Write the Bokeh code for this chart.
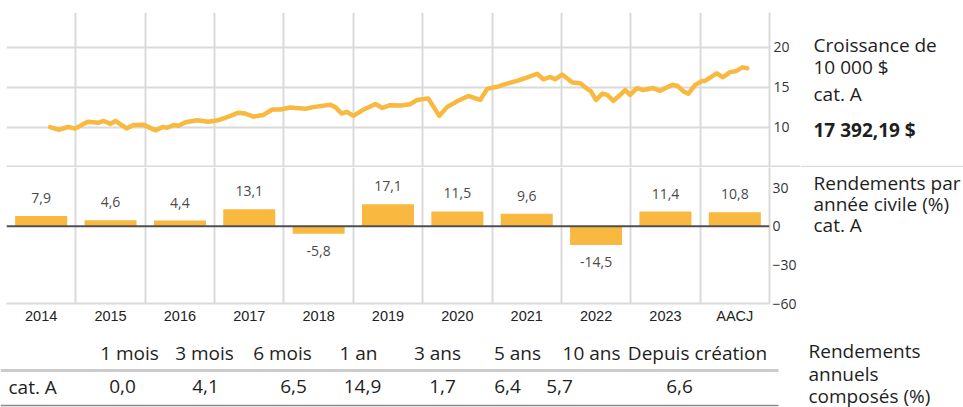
from bokeh.plotting import figure
from bokeh.layouts import column, row
from bokeh.models import Range1d, FixedTicker, Span, Grid
from bokeh.core.properties import value
from bokeh.embed import file_html
from bokeh.resources import INLINE

# ---------------- data ----------------
growth_t = [2014.63, 2014.75, 2014.89, 2014.99, 2015.17, 2015.33, 2015.40, 2015.50, 2015.57,
            2015.73, 2015.83, 2015.97, 2016.15, 2016.25, 2016.32, 2016.41, 2016.48, 2016.58,
            2016.75, 2016.91, 2017.05, 2017.23, 2017.34, 2017.44, 2017.56, 2017.70, 2017.83,
            2017.95, 2018.09, 2018.31, 2018.42, 2018.67, 2018.74, 2018.83, 2018.91, 2019.00,
            2019.13, 2019.32, 2019.42, 2019.53, 2019.68, 2019.82, 2019.92, 2020.08, 2020.24,
            2020.35, 2020.51, 2020.66, 2020.83, 2020.93, 2021.07, 2021.19, 2021.36, 2021.51,
            2021.65, 2021.74, 2021.84, 2021.91, 2022.01, 2022.16, 2022.27, 2022.37, 2022.42,
            2022.50, 2022.59, 2022.66, 2022.75, 2022.83, 2022.92, 2022.99, 2023.09, 2023.18,
            2023.32, 2023.42, 2023.60, 2023.67, 2023.76, 2023.83, 2023.93, 2024.03, 2024.07,
            2024.24, 2024.33, 2024.43, 2024.51, 2024.61, 2024.68]
growth_v = [10.0, 9.66, 10.0, 9.8, 10.67, 10.55, 10.76, 10.4, 10.76,
            9.83, 10.25, 10.3, 9.58, 10.0, 9.9, 10.25, 10.17, 10.6,
            10.85, 10.67, 10.85, 11.4, 11.8, 11.7, 11.3, 11.5, 12.2,
            12.2, 12.45, 12.3, 12.5, 12.8, 12.5, 11.7, 11.9, 11.4,
            12.1, 12.9, 12.4, 12.75, 12.7, 12.87, 13.4, 13.6, 11.4,
            12.5, 13.3, 13.9, 13.4, 14.8, 15.06, 15.4, 15.8, 16.25,
            16.7, 16.0, 16.3, 16.0, 16.6, 15.6, 15.5, 14.8, 14.55,
            13.4, 14.2, 14.05, 13.3, 13.9, 14.65, 14.05, 14.9, 14.65,
            14.9, 14.55, 15.3, 15.2, 14.47, 14.2, 15.3, 15.8, 15.8,
            16.75, 16.25, 16.9, 17.0, 17.5, 17.4]
growth_ticks = [10, 15, 20]
final_value = "17 392,19 $"

years = ["2014", "2015", "2016", "2017", "2018", "2019", "2020", "2021", "2022", "2023", "AACJ"]
annual_returns = [7.9, 4.6, 4.4, 13.1, -5.8, 17.1, 11.5, 9.6, -14.5, 11.4, 10.8]
annual_ticks = [-60, -30, 0, 30]

periods = ["1 mois", "3 mois", "6 mois", "1 an", "3 ans", "5 ans", "10 ans", "Depuis création"]
compound_returns = [0.0, 4.1, 6.5, 14.9, 1.7, 6.4, 5.7, 6.6]
row_label = "cat. A"

# ---------------- styles / layout ----------------
FONT = "Open Sans"
NARROW = "Liberation Sans"
ORANGE = "#F9B840"
GRID = "#dadada"
TXT = "#1e1e1e"

W, H = 963, 407
LEFT_W = 800
RIGHT_W = W - LEFT_W
H1, H2 = 167, 163
H3 = H - H1 - H2
SEP_OUT = 31  # separator continues through the axis gutter (minor tick at 5)


def fmt(v):
    return f"{v:.1f}".replace(".", ",")


def base(width, height, xr, yr, **kw):
    p = figure(width=width, height=height, x_range=xr, y_range=yr,
               output_backend="svg", toolbar_location=None,
               background_fill_color="white", border_fill_color="white",
               outline_line_color=None, **kw)
    p.xgrid.grid_line_color = None
    p.ygrid.grid_line_color = None
    return p


n = len(years)
idx = list(range(n))
xr = Range1d(-0.5, n - 0.5)
bounds = [i - 0.5 for i in range(n + 1)]

# ---- growth line chart ----
lp = base(LEFT_W, H1, xr, Range1d(4.91, 24.4), x_axis_location=None, y_axis_location="right",
          min_border_left=6, min_border_right=31, min_border_top=12, min_border_bottom=0)
lp.add_layout(Grid(dimension=0, ticker=FixedTicker(ticks=bounds), grid_line_color=GRID, grid_line_width=2))
lp.add_layout(Grid(dimension=1, ticker=FixedTicker(ticks=[5] + growth_ticks), grid_line_color=GRID, grid_line_width=2))
ya = lp.yaxis[0]
ya.ticker = FixedTicker(ticks=growth_ticks, minor_ticks=[5])
ya.axis_line_color = GRID
ya.axis_line_width = 2
ya.major_tick_line_color = None
ya.major_tick_in = 0
ya.major_tick_out = 0
ya.minor_tick_in = 0
ya.minor_tick_out = SEP_OUT
ya.minor_tick_line_color = GRID
ya.minor_tick_line_width = 2
ya.major_label_text_font = FONT
ya.major_label_text_font_size = "14px"
ya.major_label_text_color = "#333333"
ya.major_label_standoff = 4 - SEP_OUT
gx = [t - 2014 - 0.5 for t in growth_t]
lp.line(gx, growth_v, line_color=ORANGE, line_width=4.5, line_join="round", line_cap="round")

# ---- calendar-year bar chart ----
bp = base(LEFT_W, H2, xr, Range1d(-60, 45.6), x_axis_location="below", y_axis_location="right",
          min_border_left=6, min_border_right=31, min_border_top=0, min_border_bottom=27)
bp.add_layout(Grid(dimension=0, ticker=FixedTicker(ticks=bounds), grid_line_color=GRID, grid_line_width=2))
bp.add_layout(Span(location=0, dimension="width", line_color="#4f4f4f", line_width=2))
xa = bp.xaxis[0]
xa.ticker = FixedTicker(ticks=idx)
xa.major_label_overrides = {i: y for i, y in zip(idx, years)}
xa.axis_line_color = GRID
xa.axis_line_width = 2
xa.major_tick_line_color = None
xa.minor_tick_line_color = None
xa.major_tick_in = 0
xa.major_tick_out = 0
xa.minor_tick_out = 0
xa.major_label_text_font = NARROW
xa.major_label_text_font_size = "14.5px"
xa.major_label_text_color = "#222222"
xa.major_label_standoff = 4
yb = bp.yaxis[0]
yb.ticker = FixedTicker(ticks=annual_ticks)
yb.axis_line_color = GRID
yb.axis_line_width = 2
yb.major_tick_line_color = None
yb.minor_tick_line_color = None
yb.major_tick_in = 0
yb.major_tick_out = 0
yb.minor_tick_out = 0
yb.major_label_text_font = FONT
yb.major_label_text_font_size = "14px"
yb.major_label_text_color = "#333333"
yb.major_label_standoff = 3
bp.vbar(x=idx, top=annual_returns, width=0.75, fill_color=ORANGE, line_color=None)
bp.text(x=idx, y=annual_returns, text=[fmt(v) for v in annual_returns],
        y_offset=[-18 if v >= 0 else 17 for v in annual_returns],
        text_align="center", text_baseline="middle", text_font=value(FONT),
        text_font_size="14px", text_color="#4a4a4a")

# ---- right-hand captions ----
X0 = LEFT_W
TX = 813


def caption_panel(y_top, height, lines):
    p = base(RIGHT_W, height, Range1d(X0, X0 + RIGHT_W), Range1d(y_top + height, y_top),
             x_axis_location=None, y_axis_location=None, min_border=0)
    for txt, y, bold in lines:
        p.text(x=[TX], y=[y], text=[txt], text_font=value(FONT), text_font_size="19px",
               text_font_style="bold" if bold else "normal",
               text_baseline="middle", text_align="left", text_color=TXT)
    return p


cap1 = caption_panel(0, H1, [("Croissance de", 35, False), ("10 000 $", 59, False),
                             ("cat. A", 88, False), (final_value, 127, True)])
cap1.add_layout(Span(location=166.3, dimension="width", line_color=GRID, line_width=2))
cap2 = caption_panel(H1, H2, [("Rendements par", 186, False), ("année civile (%)", 211, False),
                              ("cat. A", 236, False)])

# ---- compound returns table ----
T0 = H1 + H2
head_x = [129, 204, 282, 358, 437, 517, 591, 697]
val_x = [122, 205, 293, 362, 442, 507, 559, 679]
tp = base(W, H3, Range1d(0, W), Range1d(H, T0), x_axis_location=None, y_axis_location=None,
          min_border=0)
tp.segment(x0=[0], y0=[370], x1=[778], y1=[370], line_color="#cccccc", line_width=3)
tp.segment(x0=[0], y0=[405], x1=[778], y1=[405], line_color="#8a8a8a", line_width=1.5)
tp.text(x=head_x, y=[352] * len(periods), text=periods, text_align="center", text_baseline="middle",
        text_font=value(FONT), text_font_size="19px", text_color=TXT)
tp.text(x=[8], y=[386], text=[row_label], text_align="left", text_baseline="middle",
        text_font=value(FONT), text_font_size="19px", text_color=TXT)
tp.text(x=val_x, y=[386] * len(compound_returns), text=[fmt(v) for v in compound_returns],
        text_align="center", text_baseline="middle", text_font=value(FONT), text_font_size="19px",
        text_color=TXT)
tp.text(x=[808] * 3, y=[350, 373, 395], text=["Rendements", "annuels", "composés (%)"],
        text_align="left", text_baseline="middle", text_font=value(FONT), text_font_size="19px",
        text_color=TXT)

layout = column(row(lp, cap1), row(bp, cap2), tp)
open("out.html", "w").write(file_html(layout, INLINE))
